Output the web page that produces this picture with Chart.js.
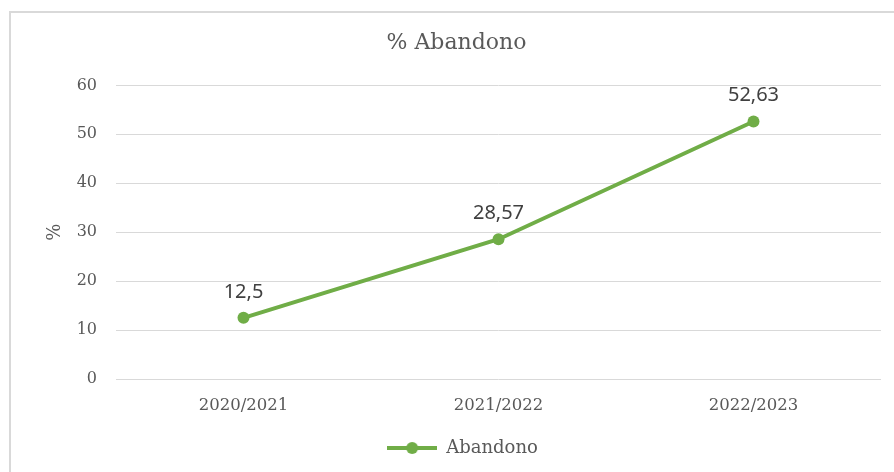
<!DOCTYPE html>
<html>
<head>
<meta charset="utf-8">
<script src="https://cdn.jsdelivr.net/npm/chart.js@4"></script>
<style>
  body { margin: 0; background: #fff; }
  #frame { position: absolute; left: 9px; top: 11px; width: 1000px; height: 1000px; border: 2px solid #d9d9d9; }
  #chart { position: absolute; left: 0; top: 0; }
</style>
</head>
<body>
<div id="frame"></div>
<canvas id="chart" width="894" height="472"></canvas>
<script>
// data
const years = ['2020/2021', '2021/2022', '2022/2023'];
const abandono = [12.5, 28.57, 52.63];
const yTicks = [0, 10, 20, 30, 40, 50, 60];

const green = '#70ad47';
const grey = '#595959';
const serif = '"DejaVu Serif", "Liberation Serif", serif';

// legend icon: line with a dot in the middle
const icon = document.createElement('canvas');
icon.width = 50;
icon.height = 14;
const ictx = icon.getContext('2d');
ictx.strokeStyle = green;
ictx.lineWidth = 4;
ictx.beginPath();
ictx.moveTo(0, 7);
ictx.lineTo(50, 7);
ictx.stroke();
ictx.fillStyle = green;
ictx.beginPath();
ictx.arc(25, 7, 6, 0, Math.PI * 2);
ictx.fill();

// values above the points, comma decimals
const valueLabels = {
    id: 'valueLabels',
    afterLayout(chart) {
        // title and legend sit a bit right of centre in the original
        chart.legend.left += 22;
        chart.legend.right += 22;
        chart.titleBlock.left += 16;
        chart.titleBlock.right += 16;
    },
    afterDatasetsDraw(chart) {
        const ctx = chart.ctx;
        ctx.save();
        ctx.font = '20px "Noto Sans", "Open Sans", sans-serif';
        ctx.fillStyle = '#404040';
        ctx.textAlign = 'center';
        ctx.textBaseline = 'middle';
        chart.getDatasetMeta(0).data.forEach((pt, i) => {
            const txt = String(abandono[i]).replace('.', ',');
            ctx.fillText(txt, pt.x, pt.y - 26);
        });
        ctx.restore();
    }
};

new Chart(document.querySelector('#chart'), {
    type: 'line',
    data: {
        labels: years,
        datasets: [{
            label: 'Abandono',
            data: abandono,
            borderColor: green,
            backgroundColor: green,
            borderWidth: 4,
            pointRadius: 6,
            pointHoverRadius: 6,
            pointBackgroundColor: green,
            pointBorderWidth: 0,
            tension: 0
        }]
    },
    options: {
        responsive: false,
        animation: false,
        layout: { padding: { left: 0, right: 13, top: 0, bottom: 5 } },
        plugins: {
            title: {
                display: true,
                text: '% Abandono',
                color: grey,
                font: { family: serif, size: 22, weight: 'normal' },
                padding: { top: 30, bottom: 29 }
            },
            legend: {
                position: 'bottom',
                labels: {
                    usePointStyle: true,
                    pointStyleWidth: 50,
                    color: grey,
                    font: { family: serif, size: 18 },
                    padding: 10,
                    generateLabels(chart) {
                        const items = Chart.defaults.plugins.legend.labels.generateLabels(chart);
                        items.forEach(it => { it.pointStyle = icon; });
                        return items;
                    }
                }
            },
            tooltip: { enabled: false }
        },
        scales: {
            x: {
                offset: true,
                grid: { display: false, drawTicks: false },
                border: { display: false },
                ticks: { color: grey, font: { family: serif, size: 16.5 }, padding: 17 },
                afterFit(s) { s.height = 50; }
            },
            y: {
                min: 0,
                max: 60,
                afterBuildTicks(s) { s.ticks = yTicks.map(v => ({ value: v })); },
                grid: { color: '#d9d9d9', lineWidth: 1, drawTicks: false },
                border: { display: false },
                ticks: { color: grey, font: { family: serif, size: 16 }, padding: 19 },
                title: {
                    display: true,
                    text: '%',
                    color: grey,
                    font: { family: serif, size: 18 },
                    padding: { top: 45, bottom: 0 }
                },
                afterFit(s) { s.width = 116; }
            }
        }
    },
    plugins: [valueLabels]
});
</script>
</body>
</html>
